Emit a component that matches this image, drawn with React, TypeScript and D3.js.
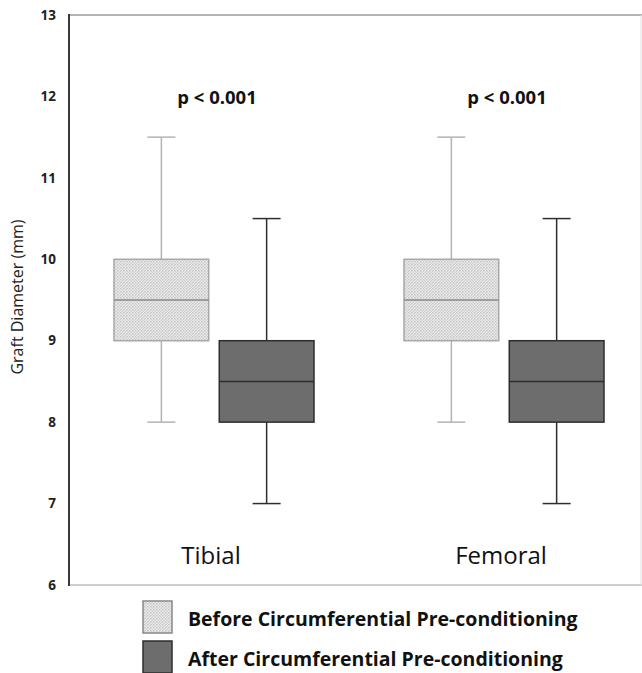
import React from 'react';
import * as d3 from 'd3';

// categories and series
const groups = ['Tibial', 'Femoral'];
const series = ['Before Circumferential Pre-conditioning', 'After Circumferential Pre-conditioning'];
const pValues = ['p < 0.001', 'p < 0.001'];
const yTicks = [6, 7, 8, 9, 10, 11, 12, 13];

// box stats per group: [whisker low, q1, median, q3, whisker high]
const beforeStats = [
  [8, 9, 9.5, 10, 11.5],
  [8, 9, 9.5, 10, 11.5],
];
const afterStats = [
  [7, 8, 8.5, 9, 10.5],
  [7, 8, 8.5, 9, 10.5],
];

const W = 642;
const H = 673;
const FONT = '"Open Sans", "Liberation Sans", sans-serif';

const App = () => {
  // plot frame
  const left = 69;
  const right = 641;
  const top = 15;
  const bottom = 585;

  const y = d3.scaleLinear().domain([6, 13]).range([bottom, top]);
  const x = d3.scaleBand().domain(groups).range([69, 649]);
  const sub = d3.scaleBand().domain(series).range([45, 245]).paddingInner(0.1);
  const bw = sub.bandwidth();
  const capW = 28;

  const styles = [
    { fill: 'url(#dots)', stroke: '#a8a8a8', whisker: '#b4b4b4', median: '#8a8a8a' },
    { fill: '#6d6d6d', stroke: '#2e2e2e', whisker: '#2e2e2e', median: '#2e2e2e' },
  ];

  const boxes = groups.flatMap((g, gi) =>
    [beforeStats[gi], afterStats[gi]].map((s, si) => ({
      key: `${g}-${si}`,
      x0: (x(g) ?? 0) + (sub(series[si]) ?? 0),
      stats: s,
      style: styles[si],
    }))
  );

  return (
    <svg width={W} height={H} style={{ position: 'absolute', left: 0, top: 0, background: '#fff' }}>
      <defs>
        <pattern id="dots" width="3" height="3" patternUnits="userSpaceOnUse">
          <rect width="3" height="3" fill="#ececec" />
          <rect width="1.5" height="1.5" fill="#c4c4c4" />
          <rect x="1.5" y="1.5" width="1.5" height="1.5" fill="#cfcfcf" />
        </pattern>
      </defs>

      {/* frame */}
      <line x1={left} x2={W} y1={top} y2={top} stroke="#9a9a9a" strokeWidth={1.5} />
      <line x1={left} x2={W} y1={bottom} y2={bottom} stroke="#bdbdbd" strokeWidth={1.5} />
      <line x1={right} x2={right} y1={top} y2={bottom} stroke="#e2e2e2" strokeWidth={1} />
      <line x1={left} x2={left} y1={top - 1} y2={bottom + 1} stroke="#3a3a3a" strokeWidth={2} />

      {/* y tick labels */}
      {yTicks.map((t) => (
        <text
          key={t}
          x={56}
          y={y(t)}
          dy="0.35em"
          textAnchor="end"
          fontFamily={FONT}
          fontWeight="bold"
          fontSize={13.5}
          fill="#222"
        >
          {t}
        </text>
      ))}

      <text
        transform={`translate(23,297) rotate(-90)`}
        textAnchor="middle"
        fontFamily={FONT}
        fontSize={16}
        fill="#222"
      >
        Graft Diameter (mm)
      </text>

      {/* boxes */}
      {boxes.map((b) => {
        const [lo, q1, med, q3, hi] = b.stats;
        const cx = b.x0 + bw / 2;
        return (
          <g key={b.key}>
            <line x1={cx} x2={cx} y1={y(hi)} y2={y(q3)} stroke={b.style.whisker} strokeWidth={1.5} />
            <line x1={cx} x2={cx} y1={y(q1)} y2={y(lo)} stroke={b.style.whisker} strokeWidth={1.5} />
            <line x1={cx - capW / 2} x2={cx + capW / 2} y1={y(hi)} y2={y(hi)} stroke={b.style.whisker} strokeWidth={1.5} />
            <line x1={cx - capW / 2} x2={cx + capW / 2} y1={y(lo)} y2={y(lo)} stroke={b.style.whisker} strokeWidth={1.5} />
            <rect
              x={b.x0}
              y={y(q3)}
              width={bw}
              height={y(q1) - y(q3)}
              fill={b.style.fill}
              stroke={b.style.stroke}
              strokeWidth={1.5}
            />
            <line x1={b.x0} x2={b.x0 + bw} y1={y(med)} y2={y(med)} stroke={b.style.median} strokeWidth={1.5} />
          </g>
        );
      })}

      {/* p values and group labels */}
      {groups.map((g, gi) => {
        const cx = (x(g) ?? 0) + x.bandwidth() / 2;
        return (
          <g key={g}>
            <text x={cx + 3} y={104} textAnchor="middle" fontFamily={FONT} fontWeight="bold" fontSize={18.5} fill="#111">
              {pValues[gi]}
            </text>
            <text x={cx - 3} y={564} textAnchor="middle" fontFamily={FONT} fontSize={24} fill="#111">
              {g}
            </text>
          </g>
        );
      })}

      {/* legend */}
      {series.map((s, si) => {
        const ly = 601 + si * 40;
        return (
          <g key={s}>
            <rect
              x={143}
              y={ly}
              width={29}
              height={32}
              fill={styles[si].fill}
              stroke={si === 0 ? '#888' : '#2e2e2e'}
              strokeWidth={1.5}
            />
            <text x={188} y={ly + 25} fontFamily={FONT} fontWeight="bold" fontSize={19.5} fill="#111">
              {s}
            </text>
          </g>
        );
      })}
    </svg>
  );
};

export default App;
